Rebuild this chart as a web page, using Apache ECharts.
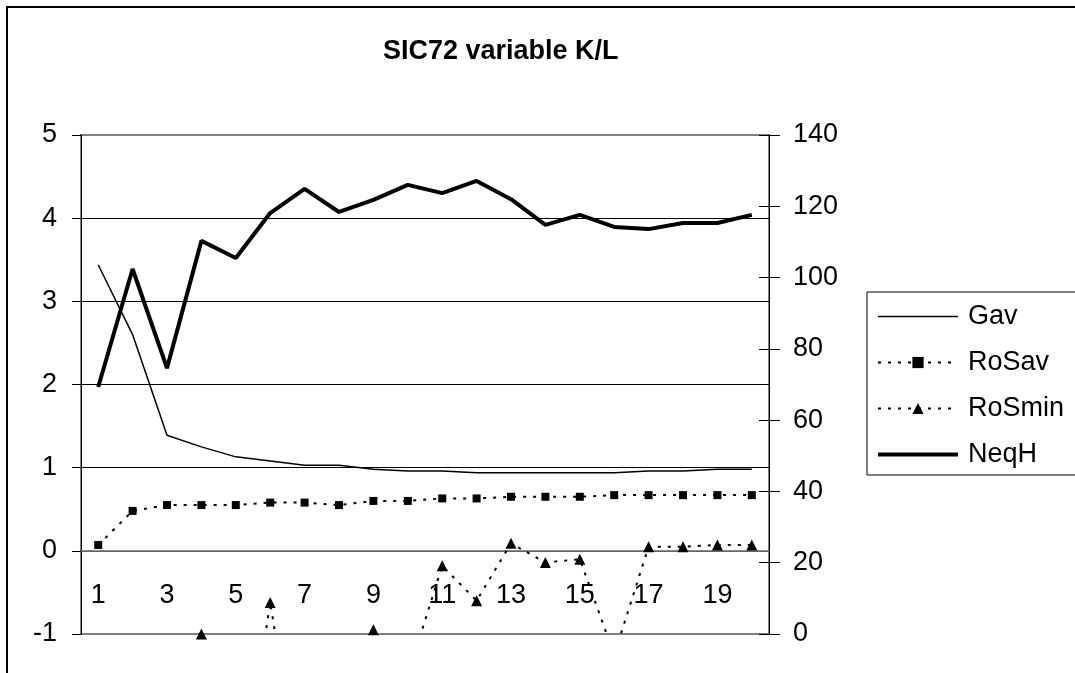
<!DOCTYPE html>
<html>
<head>
<meta charset="utf-8">
<title>SIC72 variable K/L</title>
<script src="https://cdn.jsdelivr.net/npm/echarts@6/dist/echarts.min.js"></script>
<style>
  html, body { margin: 0; padding: 0; background: #fff; }
  #chart { width: 1075px; height: 673px; }
</style>
</head>
<body>
<div id="chart"></div>
<script>
// x categories 1..20
var categories = ['1', '2', '3', '4', '5', '6', '7', '8', '9', '10',
  '11', '12', '13', '14', '15', '16', '17', '18', '19', '20'];

// left axis series
var gav = [3.44, 2.60, 1.39, 1.25, 1.13, 1.08, 1.03, 1.03, 0.98, 0.96,
  0.96, 0.94, 0.94, 0.94, 0.94, 0.94, 0.96, 0.96, 0.98, 0.98];
var roSav = [0.07, 0.48, 0.55, 0.55, 0.55, 0.58, 0.58, 0.55, 0.60, 0.60,
  0.63, 0.63, 0.65, 0.65, 0.65, 0.67, 0.67, 0.67, 0.67, 0.67];
// values under -1 run off the bottom of the plot
var roSmin = [-3.0, -2.6, -2.8, -1.0, -3.4, -0.62, -3.2, -2.4, -0.95, -1.5,
  -0.18, -0.6, 0.09, -0.14, -0.1, -1.25, 0.05, 0.05, 0.07, 0.07];

// right axis series
var neqH = [69.3, 102.4, 74.6, 110.3, 105.5, 118.1, 124.9, 118.4, 121.8, 126.0,
  123.7, 127.1, 122.0, 114.8, 117.6, 114.2, 113.6, 115.3, 115.3, 117.6];

var leftTicks = [-1, 0, 1, 2, 3, 4, 5];
var rightTicks = [0, 20, 40, 60, 80, 100, 120, 140];

var FONT = '"Liberation Sans", Arial, sans-serif';

// plot box
var gridTop = 135, gridBottom = 39, gridLeft = 81, gridRight = 306;
var plotH = 673 - gridTop - gridBottom;
var leftMin = leftTicks[0], leftMax = leftTicks[leftTicks.length - 1];
// category axis sits on the 0 line of the left axis
var xOffset = -plotH * (0 - leftMin) / (leftMax - leftMin);

var chart = echarts.init(document.getElementById('chart'));

var gridColors = leftTicks.map(function (v, i) {
  if (i === 0 || i === leftTicks.length - 1) return '#808080';
  if (v === 0) return '#666';
  return '#000';
});

var rightBase = {
  type: 'value',
  position: 'right',
  min: rightTicks[0],
  max: rightTicks[rightTicks.length - 1],
  interval: rightTicks[1] - rightTicks[0],
  splitLine: { show: false }
};

chart.setOption({
  animation: false,
  backgroundColor: '#fff',
  textStyle: { fontFamily: FONT, color: '#000' },
  title: {
    text: 'SIC72 variable K/L',
    left: 383,
    top: 38,
    padding: 0,
    textStyle: { fontSize: 27, fontWeight: 'bold', color: '#000', fontFamily: FONT }
  },
  graphic: [
    // outer frame, runs past right/bottom edge
    { type: 'rect', shape: { x: 7, y: 7, width: 1100, height: 700 },
      style: { fill: 'none', stroke: '#000', lineWidth: 2 }, silent: true },
    // legend box
    { type: 'rect', shape: { x: 867, y: 292, width: 230, height: 183 },
      style: { fill: '#fff', stroke: '#000', lineWidth: 1 }, silent: true, z: 0 }
  ],
  legend: {
    orient: 'vertical',
    left: 877,
    top: 303,
    padding: 0,
    itemWidth: 80,
    itemHeight: 14,
    itemGap: 19,
    z: 5,
    textStyle: { fontSize: 27, lineHeight: 27, color: '#000', fontFamily: FONT, padding: [0, 0, 0, 5] },
    data: [
      { name: 'Gav', icon: 'path://M0,0H80V1.5H0Z', itemStyle: { color: '#000', borderWidth: 0 } },
      { name: 'RoSav' },
      { name: 'RoSmin' },
      { name: 'NeqH', icon: 'path://M0,0H80V4H0Z', itemStyle: { color: '#000', borderWidth: 0 } }
    ]
  },
  grid: {
    left: gridLeft, right: gridRight, top: gridTop, bottom: gridBottom,
    show: true, borderColor: '#808080', borderWidth: 2
  },
  xAxis: {
    type: 'category',
    data: categories,
    boundaryGap: true,
    offset: xOffset,
    axisLine: { onZero: false, lineStyle: { color: '#666', width: 1.5 } },
    axisTick: { interval: 0, length: 8, lineStyle: { color: '#000' } },
    axisLabel: { interval: 1, margin: 31, fontSize: 27, color: '#000', fontFamily: FONT },
    splitLine: { show: false }
  },
  yAxis: [
    {
      type: 'value',
      position: 'left',
      min: leftMin,
      max: leftMax,
      interval: leftTicks[1] - leftTicks[0],
      axisLine: { show: true, lineStyle: { color: '#000', width: 1 } },
      axisTick: { show: true, length: 9, lineStyle: { color: '#000' } },
      axisLabel: { margin: 24, fontSize: 27, color: '#000', fontFamily: FONT },
      splitLine: { show: true, lineStyle: { color: gridColors, width: 1 } }
    },
    Object.assign({}, rightBase, {
      axisLine: { show: true, lineStyle: { color: '#000', width: 1 } },
      axisTick: { show: true, length: 11, lineStyle: { color: '#000' } },
      axisLabel: { margin: 24, fontSize: 27, color: '#000', fontFamily: FONT }
    }),
    // inner half of the crossing ticks on the right axis
    Object.assign({}, rightBase, {
      axisLine: { show: false },
      axisTick: { show: true, inside: true, length: 10, lineStyle: { color: '#000' } },
      axisLabel: { show: false }
    })
  ],
  series: [
    {
      name: 'Gav', type: 'line', yAxisIndex: 0, data: gav,
      symbol: 'none', color: '#000',
      lineStyle: { color: '#000', width: 1.5 }
    },
    {
      name: 'RoSav', type: 'line', yAxisIndex: 0, data: roSav,
      symbol: 'rect', symbolSize: 8, color: '#000',
      itemStyle: { color: '#000' },
      lineStyle: { color: '#000', width: 2, type: [3, 7] }
    },
    {
      name: 'RoSmin', type: 'line', yAxisIndex: 0, data: roSmin,
      symbol: 'triangle', symbolSize: 11, color: '#000',
      itemStyle: { color: '#000' },
      lineStyle: { color: '#000', width: 2, type: [3, 7] }
    },
    {
      name: 'NeqH', type: 'line', yAxisIndex: 1, data: neqH,
      symbol: 'none', color: '#000',
      lineStyle: { color: '#000', width: 4 }
    }
  ]
});
</script>
</body>
</html>
